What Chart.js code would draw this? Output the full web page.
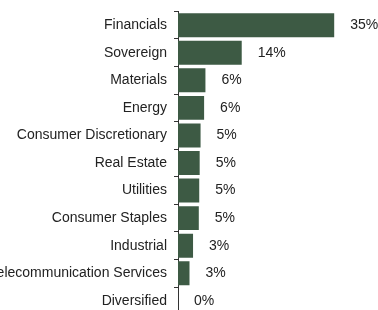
<!DOCTYPE html>
<html>
<head>
<meta charset="utf-8">
<script src="https://cdn.jsdelivr.net/npm/chart.js@4/dist/chart.umd.min.js"></script>
<style>
    html, body { margin: 0; padding: 0; background: #fff; }
    #wrap { width: 378px; height: 310px; overflow: hidden; }
    #sector-chart { display: block; margin-top: -4px; }
</style>
</head>
<body>
<div id="wrap">
    <canvas id="sector-chart" width="378" height="334"></canvas>
</div>
<script>
// sector weights (%)
var sectors = [
    'Financials',
    'Sovereign',
    'Materials',
    'Energy',
    'Consumer Discretionary',
    'Real Estate',
    'Utilities',
    'Consumer Staples',
    'Industrial',
    'Telecommunication Services',
    'Diversified'
]
var weights = [35.3, 14.4, 6.2, 5.9, 5.1, 4.9, 4.8, 4.7, 3.4, 2.6, 0.0]
var xMax = 40

// value labels next to each bar
const valueLabels = {
    id: 'valueLabels',
    afterDatasetsDraw: function (chart) {
        var ctx = chart.ctx
        var meta = chart.getDatasetMeta(0)
        ctx.save()
        ctx.font = '14px "Liberation Sans", Arial, sans-serif'
        ctx.fillStyle = '#222'
        ctx.textAlign = 'left'
        ctx.textBaseline = 'middle'
        meta.data.forEach(function (bar, i) {
            ctx.fillText(Math.round(weights[i]) + '%', bar.x + 16, bar.y)
        })
        ctx.restore()
    }
}

const sectorChart = new Chart(
    document.getElementById('sector-chart'),
    {
        type: 'bar',
        data: {
            labels: sectors,
            datasets: [{
                data: weights,
                backgroundColor: 'rgb(61, 90, 68)',
                borderWidth: 0,
                barPercentage: 0.87,
                categoryPercentage: 1.0
            }]
        },
        options: {
            indexAxis: 'y',
            responsive: false,
            animation: false,
            layout: {
                padding: { top: 4, bottom: 1, right: 23, left: 0 }
            },
            plugins: {
                legend: { display: false },
                tooltip: { enabled: false }
            },
            scales: {
                x: {
                    display: false,
                    min: 0,
                    max: xMax
                },
                y: {
                    afterFit: function (scale) { scale.width = 178 },
                    border: { display: true, color: '#333', width: 1 },
                    grid: {
                        display: true,
                        offset: true,
                        drawOnChartArea: false,
                        drawTicks: true,
                        tickLength: 4,
                        color: '#333'
                    },
                    ticks: {
                        color: '#222',
                        padding: 7,
                        font: { family: '"Liberation Sans", Arial, sans-serif', size: 14 }
                    }
                }
            }
        },
        plugins: [valueLabels]
    }
)
</script>
</body>
</html>
